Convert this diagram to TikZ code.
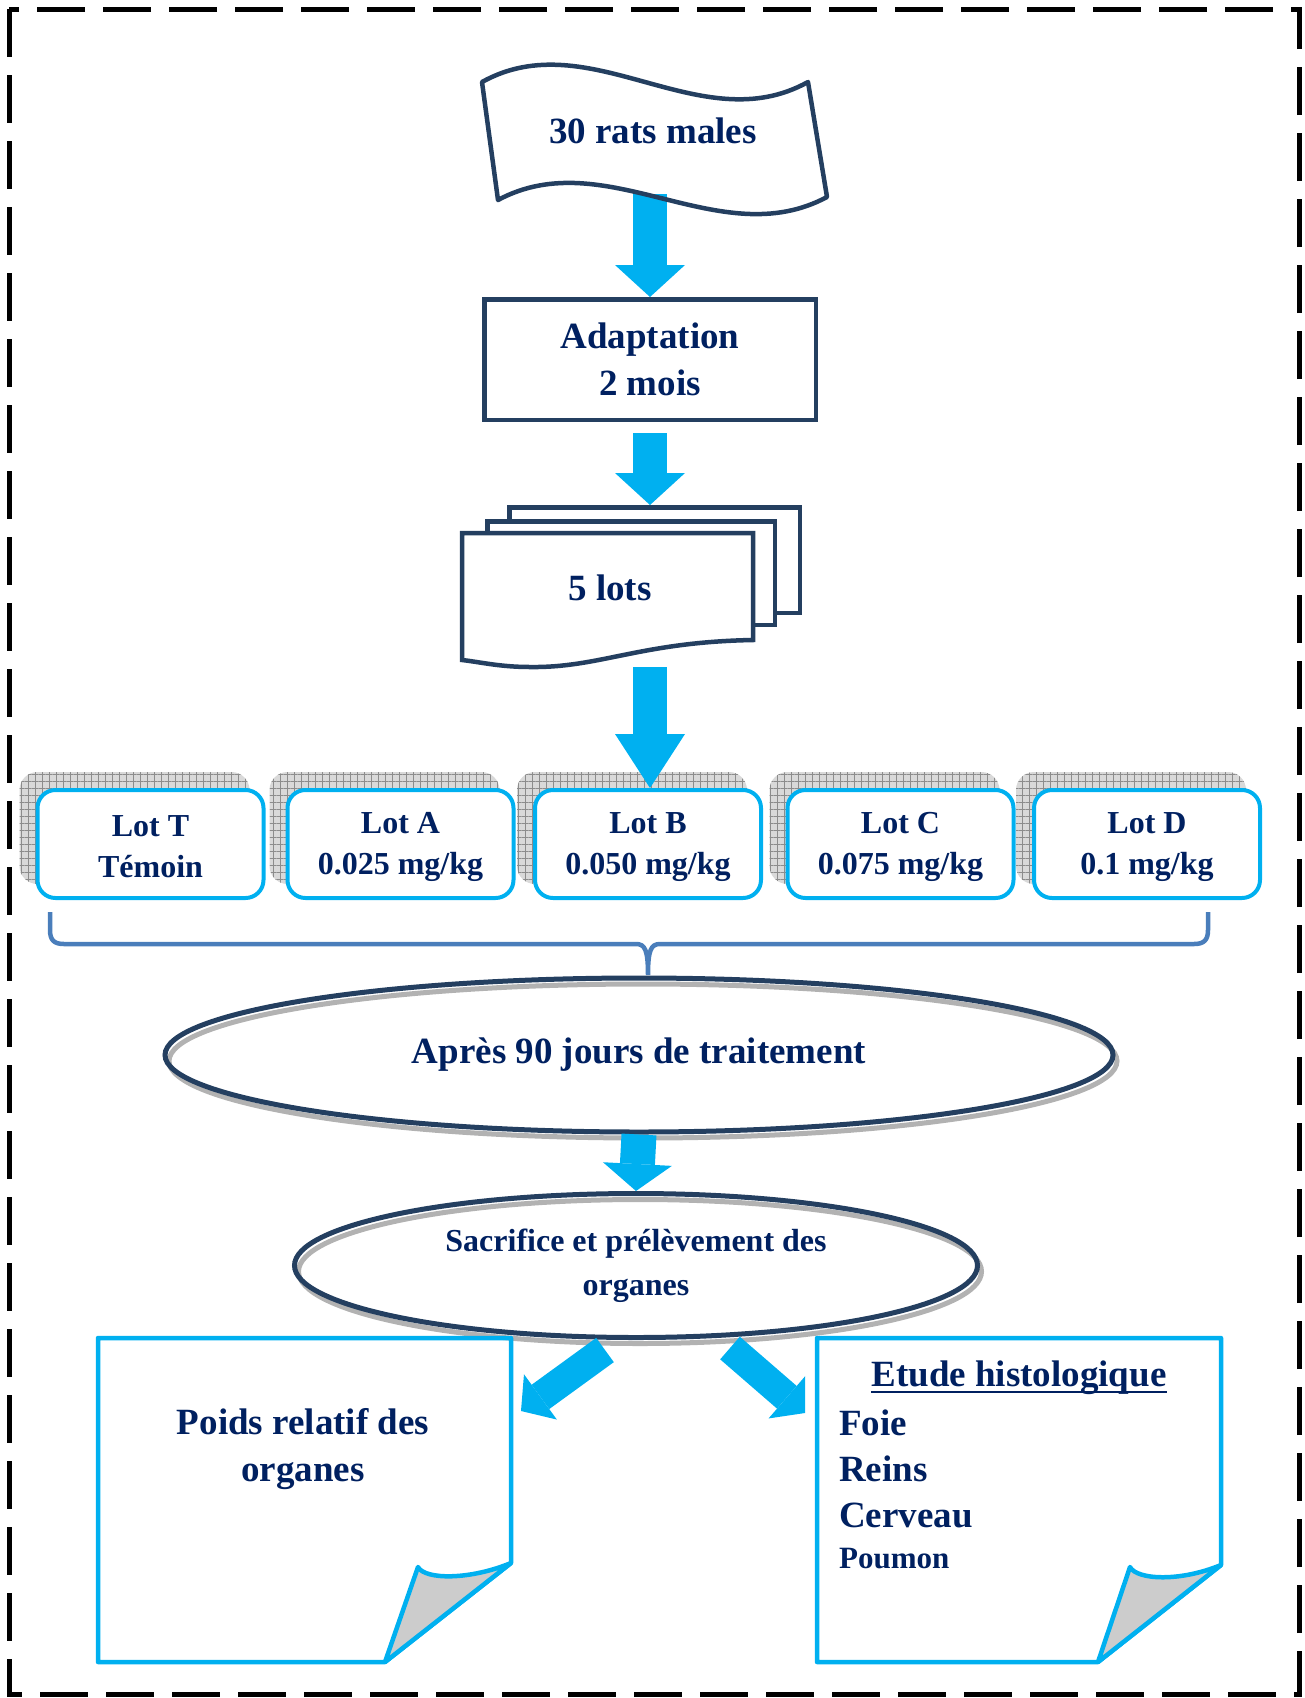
\documentclass[tikz,border=0pt]{standalone}
\usepackage{fontspec}
\setmainfont{Liberation Serif}
\usetikzlibrary{arrows.meta,patterns.meta,shapes.geometric,backgrounds}
\definecolor{navy}{HTML}{002060}
\definecolor{outl}{HTML}{243F60}
\definecolor{cyanb}{HTML}{00B0F0}
\definecolor{bracec}{HTML}{4A7EBB}
\begin{document}
\begin{tikzpicture}[x=1pt,y=-1pt,
  txt/.style={text=navy,font=\bfseries\fontsize{37}{47}\selectfont,align=center,inner sep=0pt},
  lottxt/.style={text=navy,font=\bfseries\fontsize{32}{41}\selectfont,align=center,inner sep=0pt},
  darkbox/.style={draw=outl,line width=4.5pt},
  lotbox/.style={draw=cyanb,line width=4pt,fill=white,rounded corners=18pt,minimum width=226pt,minimum height=108pt,lottxt},
  lotshadow/.style={rounded corners=18pt,fill=gray!30,
    postaction={pattern={Lines[distance=7pt,line width=0.7pt]},pattern color=gray!90},
    postaction={pattern={Lines[angle=90,distance=7pt,line width=0.7pt]},pattern color=gray!90}},
  ellshadow/.style={draw=gray!60,line width=5pt},
  bigarrow/.style={draw=cyanb,line width=34pt,-{Triangle[length=32pt,width=70pt,line width=0pt]}},
  bigarrowlong/.style={draw=cyanb,line width=34pt,-{Triangle[length=54pt,width=70pt,line width=0pt]}},
  bigarrowshort/.style={draw=cyanb,line width=35pt,-{Triangle[length=27pt,width=69pt,line width=0pt]}},
  diagarrow/.style={draw=cyanb,line width=30pt,-{Triangle[length=24pt,width=56pt,line width=0pt]}},
  paper/.style={draw=cyanb,line width=4.5pt,line join=round},
  curl/.style={draw=cyanb,line width=4.5pt,line join=round,fill=gray!40},
  bracestyle/.style={draw=bracec,line width=4.5pt}
]
\useasboundingbox (0,0) rectangle (1305,1698);

% dashed frame
\draw[black,line width=5pt,dash pattern=on 48pt off 18pt] (9,9) rectangle (1299,1694);

% arrow 1 (behind the banner outline)
\coordinate (a1s) at (650,194);
\node[darkbox,txt,minimum width=331.5pt,minimum height=120.5pt] (adapt) at (650,359.5) {Adaptation\\2 mois};
\draw[bigarrow] (a1s) -- (a1s |- adapt.north);

% banner
\draw[darkbox,line join=round] (482,82) .. controls (590,22) and (700,142) .. (808,82)
  -- (827,197) .. controls (719,255) and (606,142) .. (498,200) -- cycle;
\node[txt] (rats) at (653,131) {30 rats males};

% 5 lots (multidocument)
\node[darkbox,fill=white,minimum width=290.5pt,minimum height=105.5pt] (back) at (654.5,560) {};
\node[darkbox,fill=white,minimum width=287.5pt,minimum height=103.5pt] (mid) at (631,573) {};
\draw[darkbox,fill=white] (462,533) -- (753,533) -- (753,640)
  .. controls (640,642) and (600,668) .. (530,667)
  .. controls (500,667) and (480,662) .. (462,660) -- cycle;
\node[txt] (lots) at (610,588) {5 lots};
\draw[bigarrow] ([yshift=-11pt]adapt.south) -- (adapt.south |- back.north);

% lot boxes
\node[lotbox,text depth=0pt] (lotT) at (150.5,844) {};
\node[lotbox] (lotA) at (400.5,844) {};
\node[lotbox] (lotB) at (648,844) {};
\node[lotbox] (lotC) at (900.5,844) {};
\node[lotbox] (lotD) at (1147,844) {};
\node[lottxt] (tT) at (150.5,847) {Lot T\\Témoin};
\node[lottxt] (tA) at (400.5,847) {Lot A\\0.025 mg/kg};
\node[lottxt] (tB) at (648,847) {Lot B\\0.050 mg/kg};
\node[lottxt] (tC) at (900.5,847) {Lot C\\0.075 mg/kg};
\node[lottxt] (tD) at (1147,847) {Lot D\\0.1 mg/kg};
\begin{scope}[on background layer]
  \foreach \n in {lotT,lotA,lotB,lotC,lotD}{
    \path[lotshadow] ([shift={(-16,-16)}]\n.north west) rectangle ([shift={(-16,-16)}]\n.south east);
  }
\end{scope}
\coordinate (a3s) at (650,667);
\draw[bigarrowlong] (a3s) -- (a3s |- lotB.north);

% brace
\draw[bracestyle] (50,912) -- (50,930) .. controls (50,940) and (54,944) .. (64,944) -- (636,944)
  .. controls (645,944) and (648,950) .. (648,975)
  .. controls (648,950) and (651,944) .. (660,944) -- (1194,944)
  .. controls (1204,944) and (1208,940) .. (1208,930) -- (1208,912);

% ellipses
\node[draw=outl,line width=5pt,ellipse,minimum width=948pt,minimum height=154pt,txt] (e1) at (639,1055) {Après 90 jours de traitement};
\node[draw=outl,line width=5pt,ellipse,minimum width=683pt,minimum height=144pt,lottxt,font=\bfseries\fontsize{32}{44}\selectfont] (e2) at (636,1265.5) {Sacrifice et prélèvement des\\organes};
\begin{scope}[on background layer]
  \draw[ellshadow] ([shift={(4,6)}]e1.center) ellipse [x radius=474, y radius=77];
  \draw[ellshadow] ([shift={(4,6)}]e2.center) ellipse [x radius=341.5, y radius=72];
\end{scope}
\draw[bigarrowshort] (e1.south) -- (e2.north);

% diagonal arrows
\coordinate (l1) at (605,1350);
\coordinate (l2) at (521,1411);
\coordinate (r1) at (730,1348);
\coordinate (r2) at (805,1413);
\draw[diagarrow] (l1) -- (l2);
\draw[diagarrow] (r1) -- (r2);

% left page
\draw[paper] (98,1338) -- (511,1338) -- (511,1563) -- (385,1662) -- (98,1662) -- cycle;
\draw[curl] (511,1563) .. controls (470,1580) and (425,1580) .. (418,1567) -- (385,1662) -- cycle;
\node[txt] (poids) at (303,1449) {Poids relatif des\\organes};

% right page
\draw[paper] (817,1338) -- (1221,1338) -- (1221,1565) -- (1098,1662) -- (817,1662) -- cycle;
\draw[curl] (1221,1565) .. controls (1180,1582) and (1137,1580) .. (1130,1567) -- (1098,1662) -- cycle;
\node[txt,anchor=base] (etude) at (1019,1386) {Etude histologique};
\draw[navy,line width=2.5pt] ([yshift=-6pt]etude.base west) -- ([yshift=-6pt]etude.base east);
\node[txt,anchor=base west] (foie) at (839,1435) {Foie};
\node[txt,anchor=base west] (reins) at (839,1481) {Reins};
\node[txt,anchor=base west] (cerveau) at (839,1527) {Cerveau};
\node[txt,anchor=base west,font=\bfseries\fontsize{31}{38}\selectfont] (poumon) at (839,1568) {Poumon};
\end{tikzpicture}
\end{document}
